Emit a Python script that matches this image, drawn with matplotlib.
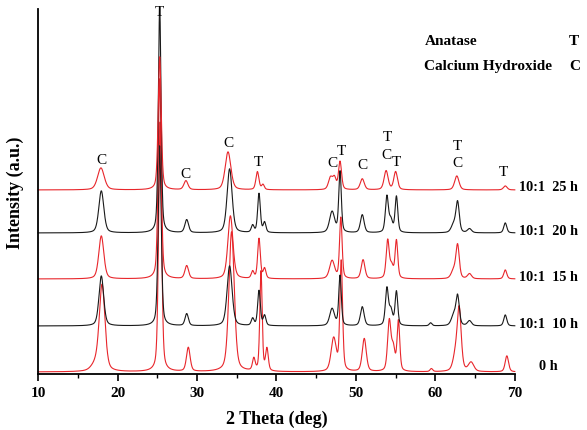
import numpy as np
import matplotlib
matplotlib.use('Agg')
import matplotlib.pyplot as plt
from matplotlib.ticker import MultipleLocator

# XRD patterns, heights (arbitrary units = pixels above each baseline)
samples   = ['0 h', '10:1  10 h', '10:1  15 h', '10:1  20 h', '10:1  25 h']
colors    = ['#e8262b', '#1a1a1a', '#e8262b', '#1a1a1a', '#e8262b']
offsets   = [2, 48, 95, 141, 184]
label_dy  = [6, 2, 2, 2, 3]

pos_0h  = [17.2, 18.05, 25.35, 28.9, 34.35, 37.15, 38.05, 38.8, 47.2, 48.15, 51.05, 54.2, 54.7, 55.35, 59.5, 62.5, 63.0, 64.5, 69.0]
hgt_0h  = [6, 86, 250, 24, 140, 12, 100, 22, 33, 110, 33, 50, 22, 50, 3, 14, 62, 9, 16]
wid_0h  = [1.2, 0.85, 0.45, 0.55, 0.8, 0.4, 0.35, 0.4, 0.75, 0.4, 0.6, 0.5, 0.5, 0.4, 0.4, 0.7, 0.6, 0.8, 0.5]

pos_10h = [17.95, 25.3, 28.7, 34.1, 37.0, 37.8, 38.5, 47.0, 48.0, 50.8, 53.9, 54.4, 55.1, 59.4, 62.3, 62.8, 64.3, 68.8]
hgt_10h = [50, 180, 12, 60, 7, 35, 10, 17, 50, 19, 37, 15, 34, 3, 10, 29, 5, 11]
wid_10h = [0.7, 0.45, 0.5, 0.75, 0.4, 0.4, 0.4, 0.7, 0.38, 0.55, 0.45, 0.5, 0.4, 0.4, 0.7, 0.5, 0.6, 0.45]

pos_15h = [17.95, 25.3, 28.7, 34.2, 37.0, 37.8, 38.5, 47.0, 48.1, 50.9, 54.0, 54.5, 55.1, 62.3, 62.8, 64.3, 68.8]
hgt_15h = [43, 200, 13, 63, 7, 40, 10, 18, 61, 19, 38, 12, 38, 8, 33, 5, 9]
wid_15h = [0.75, 0.45, 0.55, 0.75, 0.4, 0.4, 0.4, 0.75, 0.38, 0.55, 0.45, 0.5, 0.4, 0.7, 0.5, 0.6, 0.45]

pos_20h = [17.95, 25.3, 28.7, 34.1, 37.0, 37.8, 38.5, 47.0, 48.0, 50.8, 53.9, 54.4, 55.1, 62.3, 62.8, 64.3, 68.8]
hgt_20h = [42, 226, 13, 64, 7, 39, 10, 21, 61, 18, 36, 12, 36, 8, 30, 4, 10]
wid_20h = [0.75, 0.4, 0.55, 0.75, 0.4, 0.4, 0.4, 0.75, 0.38, 0.55, 0.45, 0.5, 0.4, 0.7, 0.5, 0.6, 0.45]

pos_25h = [17.9, 25.3, 28.6, 33.9, 37.6, 38.3, 46.8, 47.3, 48.0, 50.8, 53.8, 55.0, 62.7, 68.8]
hgt_25h = [22, 133, 9, 38, 18, 5, 12, 11, 28, 11, 19, 18, 14, 4]
wid_25h = [1.0, 0.45, 0.6, 0.85, 0.45, 0.4, 0.6, 0.5, 0.45, 0.6, 0.6, 0.55, 0.65, 0.55]

peaks = [(pos_0h, hgt_0h, wid_0h), (pos_10h, hgt_10h, wid_10h), (pos_15h, hgt_15h, wid_15h),
         (pos_20h, hgt_20h, wid_20h), (pos_25h, hgt_25h, wid_25h)]

# phase markers above the 25 h pattern
mark_x    = [18.0, 25.3, 28.6, 34.0, 37.7, 47.0, 48.2, 50.8, 53.9, 53.9, 55.1, 62.8, 62.8, 68.6]
mark_y    = [208, 356, 194, 225, 206, 205, 217, 203, 231, 213, 206, 222, 205, 196]
mark_txt  = ['C', 'T', 'C', 'C', 'T', 'C', 'T', 'C', 'T', 'C', 'T', 'T', 'C', 'T']

theta = np.linspace(10, 70, 3001)

def pattern(p, h, w):
    y = np.zeros_like(theta)
    for x0, a, fw in zip(p, h, w):
        g = np.exp(-4 * np.log(2) * ((theta - x0) / fw) ** 2)
        l = 1 / (1 + 4 * ((theta - x0) / fw) ** 2)
        y += a * (0.6 * g + 0.4 * l)
    return y

serif = ['Liberation Serif', 'DejaVu Serif']
fig = plt.figure(figsize=(5.87, 4.31), dpi=100)
ax = fig.add_axes([0.065, 0.13, 0.812, 0.847])

for (p, h, w), off, col in zip(peaks, offsets, colors):
    ax.plot(theta, pattern(p, h, w) + off, color=col, lw=0.8, clip_on=False)

for off, dy, name in zip(offsets, label_dy, samples):
    xl = 73.1 if name == '0 h' else 70.5
    ax.text(xl, off + dy, name, ha='left', va='center',
            family=serif, fontweight='bold', fontsize=10.3)

for x, y, t in zip(mark_x, mark_y, mark_txt):
    ax.text(x, y, t, ha='center', va='bottom', family=serif, fontsize=11)

ax.text(0.723, 0.903, 'Anatase', transform=fig.transFigure, family=serif, fontweight='bold', fontsize=11, va='center')
ax.text(0.969, 0.903, 'T', transform=fig.transFigure, family=serif, fontweight='bold', fontsize=11, va='center', ha='left')
ax.text(0.723, 0.845, 'Calcium Hydroxide', transform=fig.transFigure, family=serif, fontweight='bold', fontsize=11, va='center')
ax.text(0.969, 0.845, 'C', transform=fig.transFigure, family=serif, fontweight='bold', fontsize=11, va='center', ha='left')

ax.set_xlim(10, 70)
ax.set_ylim(0, 365)
ax.spines['top'].set_visible(False)
ax.spines['right'].set_visible(False)
ax.spines['left'].set_linewidth(1.3)
ax.spines['bottom'].set_linewidth(1.3)
ax.set_yticks([])
ax.xaxis.set_major_locator(MultipleLocator(10))
ax.xaxis.set_minor_locator(MultipleLocator(5))
ax.tick_params(axis='x', which='major', length=5, width=1.2, direction='out')
ax.tick_params(axis='x', which='minor', length=3, width=1.0, direction='out')
for lab in ax.get_xticklabels():
    lab.set_family(serif)
    lab.set_fontweight('bold')
    lab.set_fontsize(11)
ax.set_xlabel('2 Theta (deg)', family=serif, fontweight='bold', fontsize=13, labelpad=8)
ax.set_ylabel('Intensity (a.u.)', family=serif, fontweight='bold', fontsize=13, labelpad=10)

fig.savefig('out.png', dpi=100)
